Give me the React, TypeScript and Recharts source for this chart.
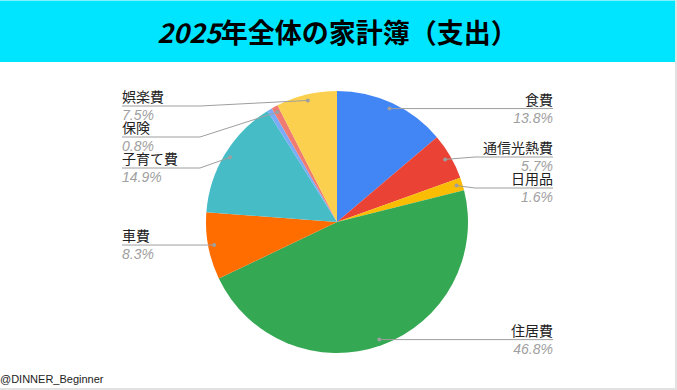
import { PieChart, Pie, Cell } from "recharts";

const CATEGORIES = ["食費", "通信光熱費", "日用品", "住居費", "車費", "子育て費", "その他", "保険", "娯楽費"];
const SHARES = [13.8, 5.7, 1.6, 46.8, 8.3, 14.9, 0.6, 0.8, 7.5];
const COLORS = ["#4285F4", "#EA4335", "#FBBC04", "#34A853", "#FF6D01", "#46BDC6", "#7BAAF7", "#F07B72", "#FCD04F"];
const HIDDEN_LABELS = ["その他"];

const data = CATEGORIES.map((name, i) => ({ name, value: SHARES[i] }));

const W = 677;
const H = 390;
const CX = 337;
const CY = 222;
const R = 131;
const DOT_R = 125;
const GAP = 31;
const MIN_Y = 106;
const RIGHT_X = 553;
const LEFT_X = 122;
const SEG = 78;
const RAD = Math.PI / 180;
const FONT = '"Noto Sans CJK JP", "Noto Sans", sans-serif';
const LATIN = '"Liberation Sans", Arial, sans-serif';

// spread label rows so they don't overlap (cluster + center, clamp top)
function spread(items: { i: number; y: number }[]) {
    const sorted = [...items].sort((a, b) => a.y - b.y);
    let groups: { ids: number[]; sum: number; start: number }[] = [];
    for (const it of sorted) {
        groups.push({ ids: [it.i], sum: it.y, start: Math.max(MIN_Y, it.y) });
        let merged = true;
        while (merged && groups.length > 1) {
            merged = false;
            const b = groups[groups.length - 1];
            const a = groups[groups.length - 2];
            if (a.start + a.ids.length * GAP > b.start) {
                const ids = [...a.ids, ...b.ids];
                const sum = a.sum + b.sum;
                const mean = sum / ids.length;
                const start = Math.max(MIN_Y, mean - ((ids.length - 1) * GAP) / 2);
                groups.splice(groups.length - 2, 2, { ids, sum, start });
                merged = true;
            }
        }
    }
    const out: Record<number, number> = {};
    groups.forEach((g) => g.ids.forEach((id, k) => (out[id] = g.start + k * GAP)));
    return out;
}

const total = SHARES.reduce((s, v) => s + v, 0);
const layout: Record<number, number> = (() => {
    let start = 90;
    const left: { i: number; y: number }[] = [];
    const right: { i: number; y: number }[] = [];
    SHARES.forEach((v, i) => {
        const ang = (v / total) * 360;
        const mid = start - ang / 2;
        start -= ang;
        if (HIDDEN_LABELS.includes(CATEGORIES[i])) return;
        const y = CY - DOT_R * Math.sin(mid * RAD);
        (Math.cos(mid * RAD) >= 0 ? right : left).push({ i, y });
    });
    return { ...spread(left), ...spread(right) };
})();

const renderLabel = (props: any) => {
    const { cx, cy, midAngle, index, name, value } = props;
    if (HIDDEN_LABELS.includes(name)) return null;
    const dx = cx + DOT_R * Math.cos(-midAngle * RAD);
    const dy = cy + DOT_R * Math.sin(-midAngle * RAD);
    const isRight = Math.cos(-midAngle * RAD) >= 0;
    const y = layout[index];
    const anchorX = isRight ? RIGHT_X : LEFT_X;
    const elbowX = isRight ? RIGHT_X - SEG : LEFT_X + SEG;
    return (
        <g>
            <polyline points={`${dx},${dy} ${elbowX},${y} ${anchorX},${y}`} fill="none" stroke="#9e9e9e" strokeWidth={1} />
            <circle cx={dx} cy={dy} r={2} fill="#9e9e9e" />
            <text x={anchorX} y={y - 4} textAnchor={isRight ? "end" : "start"} fontSize={14} fill="#222" fontFamily={FONT}>
                {name}
            </text>
            <text x={anchorX} y={y + 14} textAnchor={isRight ? "end" : "start"} fontSize={14} fill="#a0a0a0" fontStyle="italic" fontFamily={LATIN}>
                {value.toFixed(1)}%
            </text>
        </g>
    );
};

export default function App() {
    return (
        <div style={{ position: "absolute", left: 0, top: 0, width: W, height: H, background: "#fff", boxSizing: "border-box", borderRight: "2px solid #e2e2e2", borderBottom: "2px solid #e2e2e2", fontFamily: FONT }}>
            <div style={{ position: "absolute", left: 0, top: 0, width: 675, height: 62, background: "#00E5FF", borderTop: "1px solid #7ff0ff", boxSizing: "border-box", display: "flex", alignItems: "center", justifyContent: "center", fontSize: 27, fontWeight: 700, color: "#000" }}>
                <span style={{ fontStyle: "italic" }}>2025</span>
                <span>年全体の家計簿（支出）</span>
            </div>
            <div style={{ position: "absolute", left: 0, top: 0 }}>
                <PieChart width={W - 2} height={H - 2} margin={{ top: 0, right: 0, bottom: 0, left: 0 }}>
                    <Pie
                        data={data}
                        dataKey="value"
                        nameKey="name"
                        cx={CX}
                        cy={CY}
                        outerRadius={R}
                        startAngle={90}
                        endAngle={-270}
                        stroke="none"
                        label={renderLabel}
                        labelLine={false}
                        isAnimationActive={false}
                    >
                        {data.map((d, i) => (
                            <Cell key={d.name} fill={COLORS[i]} />
                        ))}
                    </Pie>
                </PieChart>
            </div>
            <div style={{ position: "absolute", left: 0, top: 373, fontSize: 11, fontFamily: LATIN, color: "#222" }}>
                @DINNER_Beginner
            </div>
        </div>
    );
}
